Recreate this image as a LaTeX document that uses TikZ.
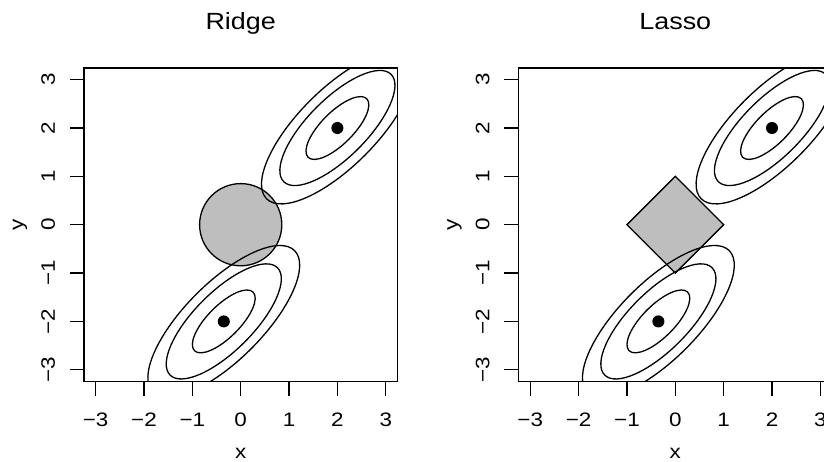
\documentclass[tikz,border=0pt]{standalone}
\usepackage{fontspec}
\setmainfont[FakeStretch=1.15]{Liberation Sans}
\definecolor{rgray}{HTML}{BEBEBE}
\tikzset{
  contourline/.style={line width=1.3pt},
  regionfill/.style={draw, line width=1.3pt, fill=rgray},
  axisline/.style={line width=1.3pt},
  ticklabel/.style={font=\fontsize{19.5}{22}\selectfont, anchor=base, inner sep=0pt},
  titlelabel/.style={font=\fontsize{23.4}{26}\selectfont, anchor=base, inner sep=0pt},
}

\begin{document}
\begin{tikzpicture}
  \useasboundingbox (0,0) rectangle (824pt,461pt);
  \clip (0,0) rectangle (824pt,461pt);

  \begin{scope}[shift={(240.7pt,236.3pt)}, x=48.35pt, y=48.35pt]
    \draw[regionfill] (0,0) circle [radius=0.85];
    \begin{scope}
      \clip (-3.24,-3.24) rectangle (3.24,3.24);
      \draw[contourline, rotate around={45:(2,2)}] (2,2) ellipse [x radius=0.857, y radius=0.332];
      \draw[contourline, rotate around={45:(2,2)}] (2,2) ellipse [x radius=1.57, y radius=0.607];
      \draw[contourline, rotate around={45:(2,2)}] (2,2) ellipse [x radius=2.071, y radius=0.80];
      \draw[contourline, rotate around={45:(-0.35,-2)}] (-0.35,-2) ellipse [x radius=0.857, y radius=0.332];
      \draw[contourline, rotate around={45:(-0.35,-2)}] (-0.35,-2) ellipse [x radius=1.57, y radius=0.607];
      \draw[contourline, rotate around={45:(-0.35,-2)}] (-0.35,-2) ellipse [x radius=2.071, y radius=0.80];
    \end{scope}
    \fill (2,2) circle [radius=0.125];
    \fill (-0.35,-2) circle [radius=0.125];
    \draw[axisline] (-3.24,-3.24) rectangle (3.24,3.24);
    \foreach \t/\s in {-3/−3,-2/−2,-1/−1,0/0,1/1,2/2,3/3} {
      \draw[axisline] (\t,-3.24) -- (\t,-3.54);
      \draw[axisline] (-3.24,\t) -- (-3.54,\t);
      \node[ticklabel] (rxt\t) at (\t,-4.18) {\s};
      \node[ticklabel, rotate=90] (ryt\t) at (-3.845,\t) {\s};
    }
    \node[titlelabel] (ridgetitle) at (0,4.03) {Ridge};
    \node[ticklabel] (ridgex) at (0,-4.83) {x};
    \node[ticklabel, rotate=90] (ridgey) at (-4.50,0) {y};
  \end{scope}

  \begin{scope}[shift={(675.3pt,236.3pt)}, x=48.35pt, y=48.35pt]
    \draw[regionfill] (1,0) -- (0,1) -- (-1,0) -- (0,-1) -- cycle;
    \begin{scope}
      \clip (-3.24,-3.24) rectangle (3.24,3.24);
      \draw[contourline, rotate around={45:(2,2)}] (2,2) ellipse [x radius=0.857, y radius=0.332];
      \draw[contourline, rotate around={45:(2,2)}] (2,2) ellipse [x radius=1.57, y radius=0.607];
      \draw[contourline, rotate around={45:(2,2)}] (2,2) ellipse [x radius=2.071, y radius=0.80];
      \draw[contourline, rotate around={45:(-0.35,-2)}] (-0.35,-2) ellipse [x radius=0.857, y radius=0.332];
      \draw[contourline, rotate around={45:(-0.35,-2)}] (-0.35,-2) ellipse [x radius=1.57, y radius=0.607];
      \draw[contourline, rotate around={45:(-0.35,-2)}] (-0.35,-2) ellipse [x radius=2.071, y radius=0.80];
    \end{scope}
    \fill (2,2) circle [radius=0.125];
    \fill (-0.35,-2) circle [radius=0.125];
    \draw[axisline] (-3.24,-3.24) rectangle (3.24,3.24);
    \foreach \t/\s in {-3/−3,-2/−2,-1/−1,0/0,1/1,2/2,3/3} {
      \draw[axisline] (\t,-3.24) -- (\t,-3.54);
      \draw[axisline] (-3.24,\t) -- (-3.54,\t);
      \node[ticklabel] (lxt\t) at (\t,-4.18) {\s};
      \node[ticklabel, rotate=90] (lyt\t) at (-3.845,\t) {\s};
    }
    \node[titlelabel] (lassotitle) at (0,4.03) {Lasso};
    \node[ticklabel] (lassox) at (0,-4.83) {x};
    \node[ticklabel, rotate=90] (lassoy) at (-4.50,0) {y};
  \end{scope}
\end{tikzpicture}
\end{document}
